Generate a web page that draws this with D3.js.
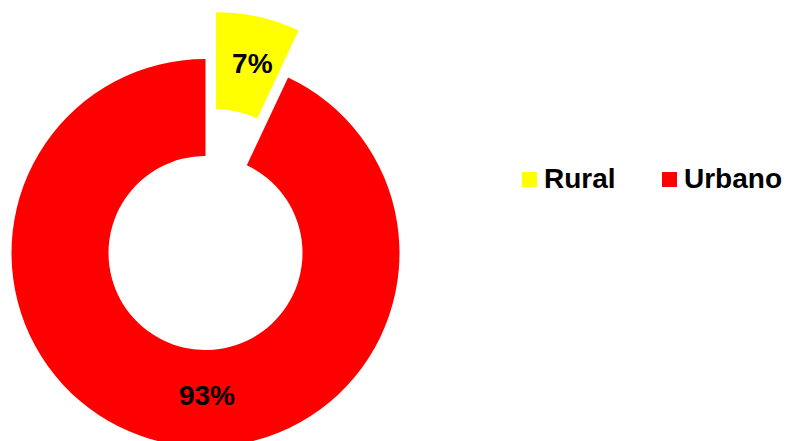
<!DOCTYPE html>
<html>
<head>
<meta charset="utf-8">
<script src="https://cdn.jsdelivr.net/npm/d3@7"></script>
<style>
  html, body { margin: 0; padding: 0; background: #fff; }
  svg { display: block; }
  text { font-family: "Liberation Sans", Arial, sans-serif; font-weight: bold; }
</style>
</head>
<body>
<svg id="chart" width="789" height="441"></svg>
<script>
// Population share by area
const categories = ["Rural", "Urbano"];
const values = [7, 93];
const colors = ["#FFFF00", "#FF0000"];
const labels = ["7%", "93%"];

const svg = d3.select("#chart");
const cx = 205.5, cy = 253;
const outerR = 194, innerR = 97;
const explode = [48, 0];

const pie = d3.pie().sort(null).value(d => d.value);
const arcs = pie(categories.map((c, i) => ({ name: c, value: values[i], color: colors[i], label: labels[i], explode: explode[i] })));

const arc = d3.arc().innerRadius(innerR).outerRadius(outerR);

const g = svg.append("g").attr("transform", `translate(${cx},${cy})`);

const slices = g.selectAll("g.slice").data(arcs).join("g")
  .attr("class", "slice")
  .attr("transform", d => {
    const mid = (d.startAngle + d.endAngle) / 2;
    const [x, y] = d3.pointRadial(mid, d.data.explode);
    return `translate(${x},${y})`;
  });

slices.append("path")
  .attr("d", arc)
  .attr("fill", d => d.data.color);

// Data labels
const labelPos = [
  d => { const mid = (d.startAngle + d.endAngle) / 2 + 0.03; return d3.pointRadial(mid, 147); },
  d => d3.pointRadial(Math.PI - 0.01, 143)
];
slices.append("text")
  .attr("x", (d, i) => labelPos[i](d)[0])
  .attr("y", (d, i) => labelPos[i](d)[1])
  .attr("text-anchor", "middle")
  .attr("dominant-baseline", "central")
  .attr("font-size", 28)
  .attr("fill", "#000")
  .text(d => d.data.label);

// Legend
const legendX = [522, 662];
const legend = svg.append("g");
const items = legend.selectAll("g").data(categories).join("g")
  .attr("transform", (d, i) => `translate(${legendX[i]},172)`);
items.append("rect")
  .attr("width", 15).attr("height", 15)
  .attr("fill", (d, i) => colors[i]);
items.append("text")
  .attr("x", 22).attr("y", 15.5)
  .attr("font-size", 28)
  .attr("fill", "#000")
  .text(d => d);
</script>
</body>
</html>
